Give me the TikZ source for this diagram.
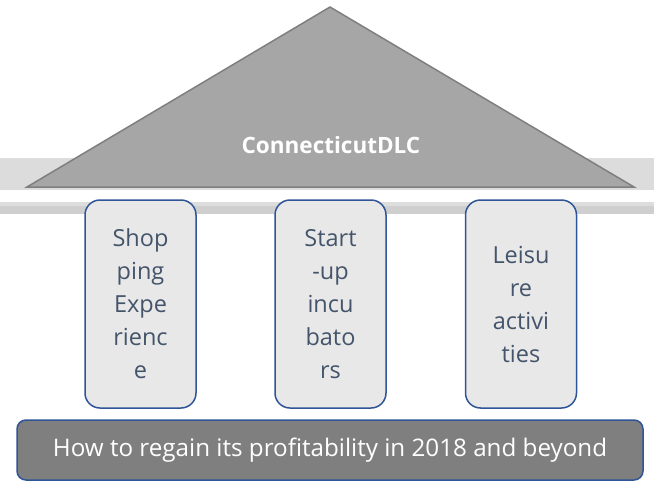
\documentclass[tikz,border=0pt]{standalone}
\usepackage{fontspec}
\setmainfont{Open Sans}
\definecolor{roof}{HTML}{A6A6A6}
\definecolor{roofline}{HTML}{7F7F7F}
\definecolor{bandA}{HTML}{DCDCDC}
\definecolor{bandB}{HTML}{CFCFCF}
\definecolor{pillarfill}{HTML}{E8E8E8}
\definecolor{blueline}{HTML}{2F5597}
\definecolor{pillartext}{HTML}{44546A}
\definecolor{basefill}{HTML}{7F7F7F}
\begin{document}
\begin{tikzpicture}[x=1pt,y=-1pt,
  pillar/.style={draw=blueline,line width=1.5pt,fill=pillarfill,rounded corners=15pt,
    minimum width=111pt,minimum height=208pt,inner sep=0pt,
    text=pillartext,font=\fontsize{23.5}{33}\selectfont,align=center},
  basebox/.style={draw=blueline,line width=1.5pt,fill=basefill,rounded corners=9pt,
    minimum width=626pt,minimum height=60pt,inner sep=0pt,
    text=white,font=\fontsize{24.2}{28}\selectfont}]
\useasboundingbox (0,0) rectangle (654,482);
% bands
\fill[bandA] (0,158) rectangle (654,190);
\fill[bandB!70!white] (0,202) rectangle (654,206);
\fill[bandB] (0,206) rectangle (654,214);
% roof
\filldraw[fill=roof,draw=roofline,line width=1.5pt,line join=miter] (27,187) -- (330,7) -- (634,187) -- cycle;
\node[font=\bfseries\fontsize{22.5}{26}\selectfont,text=white] (title) at (331,145) {ConnecticutDLC};
% pillars
\node[pillar] (p1) at (140.5,304) {Shop\\ping\\Expe\\rienc\\e};
\node[pillar] (p2) at (330.5,304) {Start\\-up\\incu\\bato\\rs};
\node[pillar] (p3) at (521,304) {Leisu\\re\\activi\\ties};
% base
\node[basebox] (base) at (330,450) {How to regain its profitability in 2018 and beyond};
\end{tikzpicture}
\end{document}
